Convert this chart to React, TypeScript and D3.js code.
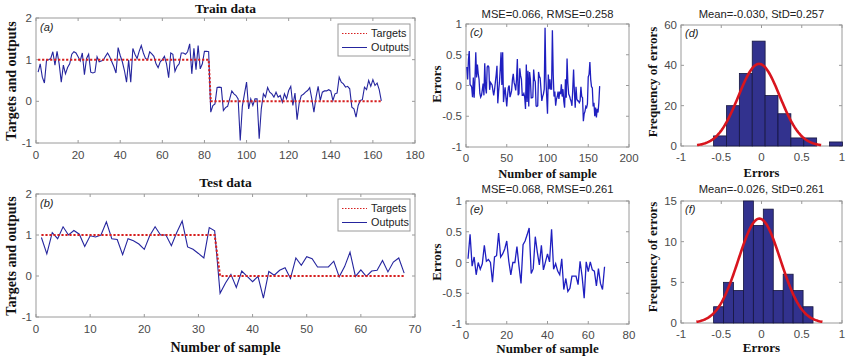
import React from 'react';
import * as d3 from 'd3';

// ---------- DATA ----------
const trainOutputs = [
  0.70, 0.90, 0.58, 0.44, 0.99, 1.00, 1.03, 1.19, 0.87, 1.20,
  0.90, 0.46, 0.87, 0.66, 0.81, 0.90, 1.13, 1.19, 1.16, 1.07,
  0.97, 1.16, 0.64, 1.03, 1.13, 0.70, 0.68, 0.70, 1.07, 0.95,
  0.97, 0.99, 1.08, 1.16, 1.07, 0.95, 0.83, 0.68, 1.29, 1.10,
  0.95, 0.74, 0.46, 0.99, 0.46, 1.27, 1.13, 1.03, 1.20, 1.34,
  1.16, 1.03, 1.00, 1.19, 1.14, 1.08, 0.90, 0.81, 0.95, 1.00,
  1.08, 0.90, 0.57, 1.16, 1.13, 0.72, 0.84, 0.90, 1.16, 1.16,
  1.13, 1.19, 1.38, 0.66, 1.27, 0.76, 1.34, 0.78, 0.90, 1.20,
  1.20, 1.19,
  -0.26, -0.10, -0.06, 0.33, 0.34, 0.33, -0.22, -0.15,
  -0.12, 0.06, 0.25, 0.18, 0.14, 0.06, -0.94, -0.12, 0.18, 0.46,
  -0.18, 0.06, -0.10, 0.06, 0.06, -0.90, -0.18, 0.18, 0.10, 0.33,
  0.22, 0.18, 0.10, 0.22, 0.10, 0.14, -0.02, 0.18, 0.06, 0.26,
  0.36, -0.10, 0.20, -0.44, -0.04, 0.14, 0.17, 0.22, 0.26, 0.33,
  0.06, -0.26, 0.10, 0.36, 0.02, 0.22, 0.25, 0.25, 0.28, 0.25,
  0.02, 0.18, 0.20, 0.58, 0.46, 0.42, 0.34, 0.36, 0.30, -0.14,
  -0.18, -0.38, -0.10, 0.02, 0.04, 0.34, 0.28, 0.50, 0.36, 0.52,
  0.38, 0.44, 0.28, 0.01,
];
const trainTargetLevels = [1, 0];
const trainTargetCounts = [82, 82];

const testOutputs = [
  0.94, 0.54, 1.06, 0.91, 1.20, 1.00, 1.11, 1.02, 0.72, 0.98,
  0.95, 1.00, 1.32, 0.91, 0.89, 0.52, 0.91, 0.86, 0.78, 0.65,
  0.98, 1.20, 1.00, 1.00, 0.74, 1.06, 1.34, 0.71, 0.65, 0.55,
  0.44, 1.18, 1.10,
  -0.42, -0.17, 0.04, -0.28, 0.12, -0.01, -0.14,
  -0.01, -0.54, 0.11, 0.02, 0.14, 0.20, -0.06, 0.44, 0.26, 0.47,
  0.42, 0.22, 0.22, 0.22, 0.36, -0.02, 0.23, 0.58, -0.01, 0.15,
  -0.01, 0.12, 0.14, 0.38, 0.10, 0.34, 0.44, 0.07,
];
const testTargetLevels = [1, 0];
const testTargetCounts = [33, 35];

const trainHistStart = -0.595;
const trainHistWidth = 0.16;
const trainHistCounts = [5, 20, 36, 52, 25, 16, 4, 4, 0, 2];
const trainMean = -0.030;
const trainStd = 0.257;

const testHistStart = -0.595;
const testHistWidth = 0.1235;
const testHistCounts = [2, 5, 4, 15, 12, 14, 4, 6, 4, 2];
const testMean = -0.026;
const testStd = 0.261;

const ticksA_X = [0, 20, 40, 60, 80, 100, 120, 140, 160, 180];
const ticksB_X = [0, 10, 20, 30, 40, 50, 60, 70];
const ticksAB_Y = [-1, 0, 1, 2];
const ticksC_X = [0, 50, 100, 150, 200];
const ticksE_X = [0, 20, 40, 60, 80];
const ticksErr_Y = [-1, -0.5, 0, 0.5, 1];
const ticksHist_X = [-1, -0.5, 0, 0.5, 1];
const ticksD_Y = [0, 20, 40, 60];
const ticksF_Y = [0, 5, 10, 15];

// ---------- STYLE ----------
const SANS = 'Arial, "Liberation Sans", Helvetica, sans-serif';
const SERIF = '"Times New Roman", "Liberation Serif", serif';
const BOX = '#9a9a9a';
const TICKTXT = '#4a4a4a';
const RED = '#d61f1f';
const NAVY = '#25259e';
const BLUE = '#1f1fc0';
const BARFILL = '#32328e';
const BAREDGE = '#16163f';
const CURVE = '#d8151e';

type Box = { x0: number; x1: number; y0: number; y1: number };

function expand(levels: number[], counts: number[]) {
  const out: number[] = [];
  levels.forEach((l, i) => { for (let k = 0; k < counts[i]; k++) out.push(l); });
  return out;
}

function Frame({ box, x, y, xTicks, yTicks, xOff = 15 }: any) {
  const tl = 3;
  return (
    <g>
      <rect x={box.x0} y={box.y0} width={box.x1 - box.x0} height={box.y1 - box.y0} fill="white" stroke={BOX} strokeWidth={1} />
      {xTicks.map((t: number) => (
        <g key={'x' + t}>
          <line x1={x(t)} x2={x(t)} y1={box.y1} y2={box.y1 - tl} stroke={BOX} />
          <line x1={x(t)} x2={x(t)} y1={box.y0} y2={box.y0 + tl} stroke={BOX} />
          <text x={x(t)} y={box.y1 + xOff} textAnchor="middle" fontFamily={SANS} fontSize={11.5} fill={TICKTXT}>{String(t)}</text>
        </g>
      ))}
      {yTicks.map((t: number) => (
        <g key={'y' + t}>
          <line x1={box.x0} x2={box.x0 + tl} y1={y(t)} y2={y(t)} stroke={BOX} />
          <line x1={box.x1} x2={box.x1 - tl} y1={y(t)} y2={y(t)} stroke={BOX} />
          <text x={box.x0 - 4} y={y(t) + 4} textAnchor="end" fontFamily={SANS} fontSize={11.5} fill={TICKTXT}>{String(t)}</text>
        </g>
      ))}
    </g>
  );
}

function PanelTag({ box, label, dy }: any) {
  return (
    <text x={box.x0 + 4} y={box.y0 + dy} fontFamily={SANS} fontStyle="italic" fontSize={11} fill="#222">{label}</text>
  );
}

function SeriesPanel({ box, outputs, levels, counts, xDomain, xTicks, tag, legendY }: any) {
  const x = d3.scaleLinear().domain(xDomain).range([box.x0, box.x1]);
  const y = d3.scaleLinear().domain([-1, 2]).range([box.y1, box.y0]);
  const targets = expand(levels, counts);
  const line = d3.line<number>().x((_, i) => x(i + 1)).y(d => y(d));
  return (
    <g>
      <Frame box={box} x={x} y={y} xTicks={xTicks} yTicks={ticksAB_Y} xOff={16} />
      <path d={line(outputs) || ''} fill="none" stroke={NAVY} strokeWidth={1.1} />
      <path d={line(targets) || ''} fill="none" stroke={RED} strokeWidth={2} strokeDasharray="2.2 1.8" />
      <PanelTag box={box} label={tag} dy={13} />
      <g>
        <rect x={338} y={legendY} width={72} height={32} fill="white" stroke={BOX} strokeWidth={1} />
        <line x1={342} x2={367} y1={legendY + 9.5} y2={legendY + 9.5} stroke={RED} strokeWidth={1.2} strokeDasharray="1.5 1.5" />
        <text x={371} y={legendY + 13} fontFamily={SANS} fontSize={10.8} fill="#222">Targets</text>
        <line x1={342} x2={367} y1={legendY + 23.5} y2={legendY + 23.5} stroke={NAVY} strokeWidth={1} />
        <text x={371} y={legendY + 27} fontFamily={SANS} fontSize={10.8} fill="#222">Outputs</text>
      </g>
    </g>
  );
}

function ErrorPanel({ box, outputs, levels, counts, xDomain, xTicks, tag }: any) {
  const x = d3.scaleLinear().domain(xDomain).range([box.x0, box.x1]);
  const y = d3.scaleLinear().domain([-1, 1]).range([box.y1, box.y0]);
  const targets = expand(levels, counts);
  const errors = outputs.map((o: number, i: number) => targets[i] - o);
  const line = d3.line<number>().x((_, i) => x(i + 1)).y(d => y(d));
  return (
    <g>
      <Frame box={box} x={x} y={y} xTicks={xTicks} yTicks={ticksErr_Y} />
      <path d={line(errors) || ''} fill="none" stroke={BLUE} strokeWidth={1.3} />
      <PanelTag box={box} label={tag} dy={12} />
    </g>
  );
}

function HistPanel({ box, start, width, counts, mean, std, yMax, yTicks, tag }: any) {
  const x = d3.scaleLinear().domain([-1, 1]).range([box.x0, box.x1]);
  const y = d3.scaleLinear().domain([0, yMax]).range([box.y1, box.y0]);
  const n = d3.sum(counts as number[]);
  const area = n * width;
  const xs = d3.range(0, 121).map(i => mean - 3 * std + (6 * std * i) / 120);
  const pdf = (v: number) => (area / (std * Math.sqrt(2 * Math.PI))) * Math.exp(-0.5 * ((v - mean) / std) ** 2);
  const curve = d3.line<number>().x(v => x(v)).y(v => y(pdf(v)));
  return (
    <g>
      <Frame box={box} x={x} y={y} xTicks={ticksHist_X} yTicks={yTicks} />
      {counts.map((c: number, i: number) => c > 0 ? (
        <rect key={i} x={x(start + i * width)} y={y(c)} width={x(start + (i + 1) * width) - x(start + i * width)} height={y(0) - y(c)} fill={BARFILL} stroke={BAREDGE} strokeWidth={0.8} />
      ) : null)}
      <path d={curve(xs) || ''} fill="none" stroke={CURVE} strokeWidth={2.6} />
      <PanelTag box={box} label={tag} dy={12} />
    </g>
  );
}

export default function App() {
  const A: Box = { x0: 36, x1: 415, y0: 18, y1: 143 };
  const B: Box = { x0: 36, x1: 415, y0: 194, y1: 317 };
  const C: Box = { x0: 466, x1: 629, y0: 24, y1: 147 };
  const E: Box = { x0: 466, x1: 629, y0: 201, y1: 324 };
  const D: Box = { x0: 681, x1: 842, y0: 25, y1: 146 };
  const F: Box = { x0: 681, x1: 842, y0: 201, y1: 323 };
  const boldSerif = { fontFamily: SERIF, fontWeight: 700 as const, fill: '#111' };
  return (
    <svg width={850} height={357} style={{ position: 'absolute', left: 0, top: 0, background: 'white' }}>
      <rect x={0} y={0} width={850} height={357} fill="white" />
      <SeriesPanel box={A} outputs={trainOutputs} levels={trainTargetLevels} counts={trainTargetCounts} xDomain={[0, 180]} xTicks={ticksA_X} tag="(a)" legendY={24} />
      <SeriesPanel box={B} outputs={testOutputs} levels={testTargetLevels} counts={testTargetCounts} xDomain={[0, 70]} xTicks={ticksB_X} tag="(b)" legendY={199} />
      <ErrorPanel box={C} outputs={trainOutputs} levels={trainTargetLevels} counts={trainTargetCounts} xDomain={[0, 200]} xTicks={ticksC_X} tag="(c)" />
      <ErrorPanel box={E} outputs={testOutputs} levels={testTargetLevels} counts={testTargetCounts} xDomain={[0, 80]} xTicks={ticksE_X} tag="(e)" />
      <HistPanel box={D} start={trainHistStart} width={trainHistWidth} counts={trainHistCounts} mean={trainMean} std={trainStd} yMax={60} yTicks={ticksD_Y} tag="(d)" />
      <HistPanel box={F} start={testHistStart} width={testHistWidth} counts={testHistCounts} mean={testMean} std={testStd} yMax={15} yTicks={ticksF_Y} tag="(f)" />

      <text x={225.5} y={13} textAnchor="middle" fontSize={13.5} {...boldSerif}>Train data</text>
      <text x={225.5} y={187} textAnchor="middle" fontSize={13.5} {...boldSerif}>Test data</text>
      <text x={225.5} y={352} textAnchor="middle" fontSize={14} {...boldSerif}>Number of sample</text>
      <text transform="translate(16,81) rotate(-90)" textAnchor="middle" fontSize={14} {...boldSerif}>Targets and outputs</text>
      <text transform="translate(16,256) rotate(-90)" textAnchor="middle" fontSize={14} {...boldSerif}>Targets and outputs</text>

      <text x={547.5} y={18} textAnchor="middle" fontFamily={SANS} fontSize={11.2} fill="#222">MSE=0.066, RMSE=0.258</text>
      <text x={547.5} y={193} textAnchor="middle" fontFamily={SANS} fontSize={11.2} fill="#222">MSE=0.068, RMSE=0.261</text>
      <text x={547.5} y={177.5} textAnchor="middle" fontSize={12.5} {...boldSerif}>Number of sample</text>
      <text x={547.5} y={353} textAnchor="middle" fontSize={13} {...boldSerif}>Number of sample</text>
      <text transform="translate(441,84) rotate(-90)" textAnchor="middle" fontSize={13} {...boldSerif}>Errors</text>
      <text transform="translate(441,262) rotate(-90)" textAnchor="middle" fontSize={13} {...boldSerif}>Errors</text>

      <text x={761.5} y={18} textAnchor="middle" fontFamily={SANS} fontSize={11.2} fill="#222">Mean=-0.030, StD=0.257</text>
      <text x={761.5} y={193} textAnchor="middle" fontFamily={SANS} fontSize={11.2} fill="#222">Mean=-0.026, StD=0.261</text>
      <text x={761.5} y={177} textAnchor="middle" fontSize={12.5} {...boldSerif}>Errors</text>
      <text x={761.5} y={352} textAnchor="middle" fontSize={13} {...boldSerif}>Errors</text>
      <text transform="translate(657,82) rotate(-90)" textAnchor="middle" fontSize={13} {...boldSerif}>Frequency of errors</text>
      <text transform="translate(657,257) rotate(-90)" textAnchor="middle" fontSize={13} {...boldSerif}>Frequency of errors</text>
    </svg>
  );
}
